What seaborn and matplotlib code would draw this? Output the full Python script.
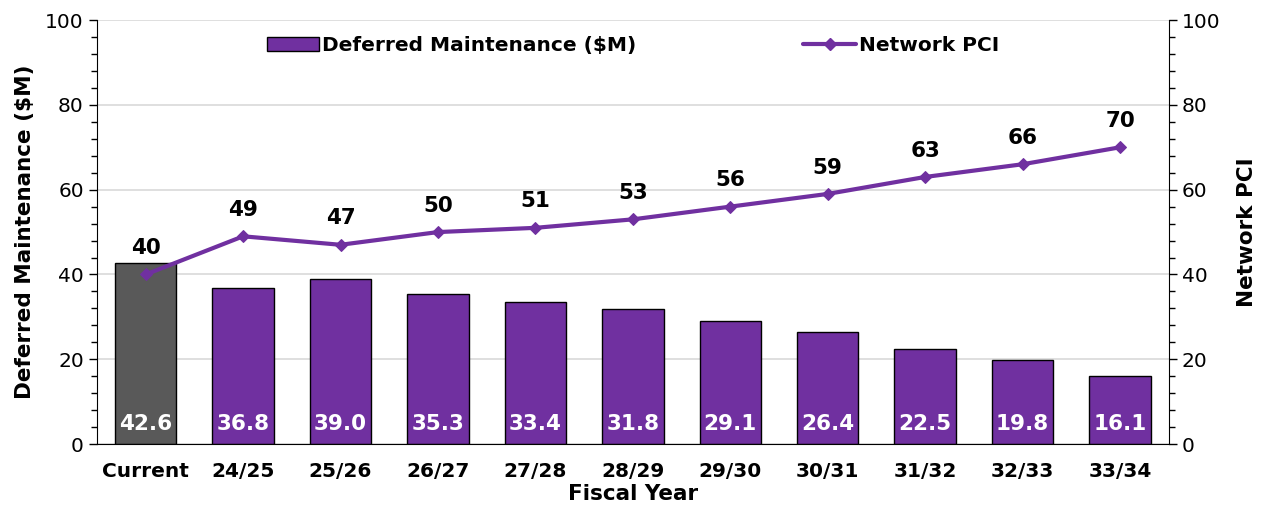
import seaborn as sns
import matplotlib.pyplot as plt
import pandas as pd
import numpy as np
from matplotlib.patches import Patch
from matplotlib.lines import Line2D
from matplotlib.ticker import MultipleLocator

# -----------------------
# Data
# -----------------------
years = ["Current", "24/25", "25/26", "26/27", "27/28", "28/29",
         "29/30", "30/31", "31/32", "32/33", "33/34"]
deferred = [42.6, 36.8, 39.0, 35.3, 33.4, 31.8, 29.1, 26.4, 22.5, 19.8, 16.1]
pci = [40, 49, 47, 50, 51, 53, 56, 59, 63, 66, 70]

purple = "#7030A0"
grey = "#595959"
bar_colors = [grey] + [purple] * (len(years) - 1)

df = pd.DataFrame({"Year": years, "Deferred": deferred, "PCI": pci,
                   "pos": np.arange(len(years))})

# -----------------------
# Plot
# -----------------------
sns.set_style("white")
plt.rcParams["font.family"] = ["DejaVu Sans"]
plt.rcParams.update({"text.color": "black", "axes.labelcolor": "black",
                     "xtick.color": "black", "ytick.color": "black"})

fig, ax = plt.subplots(figsize=(12.69, 5.16), dpi=100)
fig.subplots_adjust(left=0.0764, right=0.921, top=0.961, bottom=0.1395)

sns.barplot(data=df, x="Year", y="Deferred", hue="Year", palette=bar_colors,
            width=0.63, edgecolor="black", linewidth=1.0, saturation=1,
            legend=False, ax=ax, zorder=2)

ax.set_ylim(0, 100)
ax.set_xlim(-0.5, len(years) - 0.5)
ax.yaxis.set_major_locator(MultipleLocator(20))
ax.yaxis.set_minor_locator(MultipleLocator(4))
ax.yaxis.grid(True, which="major", color="#d9d9d9", linewidth=1.2, zorder=0)
ax.set_axisbelow(True)

# x ticks: labels at centres, tick marks at the boundaries
ax.set_xticks(range(len(years)))
ax.set_xticklabels(years, fontsize=14.5, fontweight="bold")
ax.set_xticks(np.arange(-0.5, len(years), 1), minor=True)
ax.tick_params(axis="x", which="major", length=0, pad=13)
ax.tick_params(axis="x", which="minor", length=6, width=1, direction="out")
ax.tick_params(axis="y", which="major", length=6, width=1, direction="out",
               labelsize=14.5)
ax.tick_params(axis="y", which="minor", length=4, width=1, direction="out")

for s in ["left", "bottom"]:
    ax.spines[s].set_color("black")
ax.spines["top"].set_visible(False)
ax.spines["right"].set_visible(False)

ax.set_xlabel("Fiscal Year", fontsize=15.5, fontweight="bold", labelpad=2)
ax.set_ylabel("Deferred Maintenance ($M)", fontsize=15.5, fontweight="bold", labelpad=7)

for i, v in enumerate(deferred):
    ax.text(i, 4.7, f"{v:.1f}", ha="center", va="center", color="white",
            fontsize=15.5, fontweight="bold", zorder=5)

# line on secondary axis
ax2 = ax.twinx()
sns.lineplot(data=df, x="pos", y="PCI", color=purple, linewidth=3,
             marker="D", markersize=6.5, markeredgecolor=purple, ax=ax2)
ax2.set_ylim(0, 100)
ax2.yaxis.set_major_locator(MultipleLocator(20))
ax2.yaxis.set_minor_locator(MultipleLocator(4))
ax2.tick_params(axis="y", which="major", length=6, width=1, direction="out",
                labelsize=14.5)
ax2.tick_params(axis="y", which="minor", length=4, width=1, direction="out")
ax2.spines["right"].set_color("black")
ax2.spines["top"].set_visible(False)
ax2.spines["left"].set_visible(False)
ax2.spines["bottom"].set_visible(False)
ax2.set_ylabel("Network PCI", fontsize=15.5, fontweight="bold", labelpad=12)
ax2.set_xlabel("")

for i, v in enumerate(pci):
    ax2.annotate(f"{v}", (i, v), xytext=(0, 19), textcoords="offset points",
                 ha="center", va="center", fontsize=15.5, fontweight="bold")

handles = [Patch(facecolor=purple, edgecolor="black", linewidth=1),
           Line2D([0], [0], color=purple, linewidth=3, marker="D", markersize=6.5)]
ax2.legend(handles, ["Deferred Maintenance ($M)", "Network PCI"],
           loc="upper center", bbox_to_anchor=(0.5, 1.006), ncol=2, frameon=False,
           prop={"weight": "bold", "size": 14.5},
           columnspacing=8.3, handlelength=2.6, handletextpad=0.15)

plt.savefig("out.png", dpi=100)
